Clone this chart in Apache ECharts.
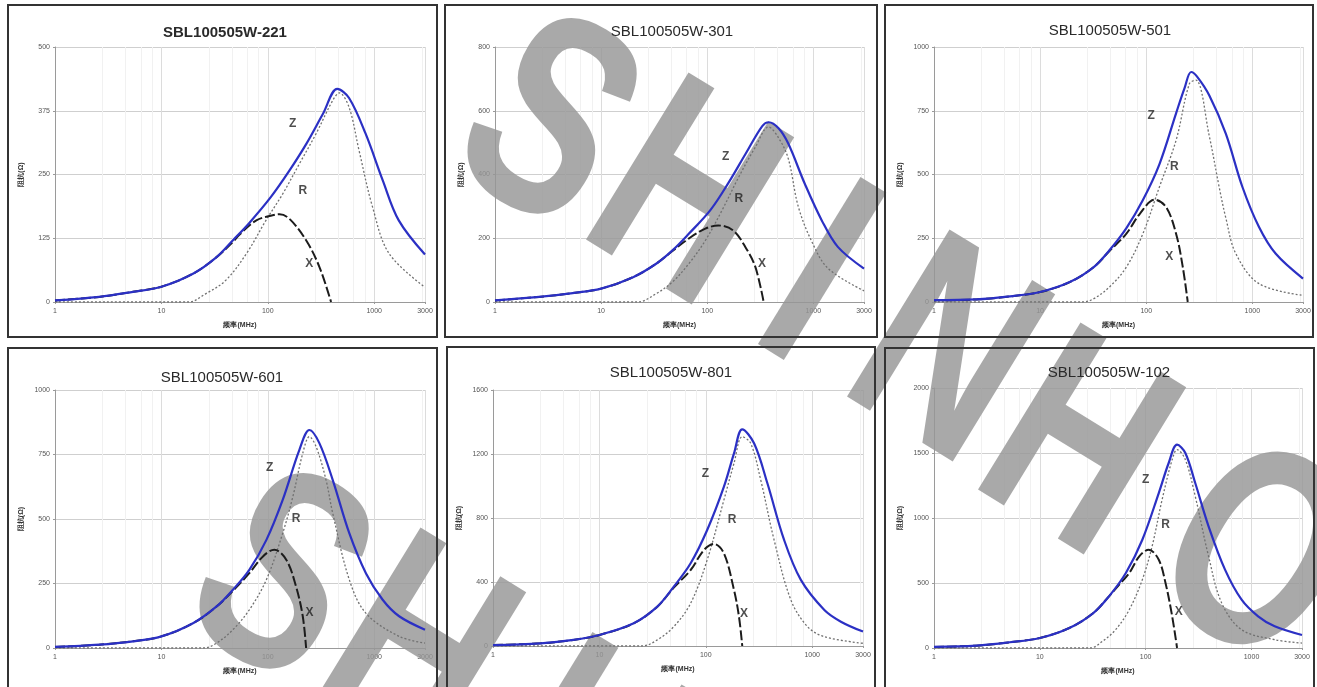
<!DOCTYPE html>
<html><head><meta charset="utf-8">
<script src="https://cdn.jsdelivr.net/npm/echarts@6/dist/echarts.min.js"></script>
<style>html,body{margin:0;padding:0;background:#fff}#c{width:1317px;height:687px}</style>
</head><body><div id="c"></div>
<script>
// ---------- DATA (frequency in MHz, impedance in ohm) ----------
const titles = ['SBL100505W-221','SBL100505W-301','SBL100505W-501','SBL100505W-601','SBL100505W-801','SBL100505W-102'];
const yMaxes = [500, 800, 1000, 1000, 1600, 2000];
const ySteps = [125, 200, 250, 250, 400, 500];
const xMin = 1, xMax = 3000;
const xName = '频率(MHz)', yName = '阻抗(Ω)';
const curveNames = ['Z', 'R', 'X'];

// 221
const fZ221 = [1, 2.6, 5.4, 10, 20, 33, 47, 67, 107, 160, 230, 330, 450, 580, 830, 1200, 1700, 3000];
const z221  = [3, 10, 20, 30, 56, 88, 121, 155, 206, 258, 310, 369, 418, 400, 330, 239, 160, 93];
const fR221 = [1, 18, 26, 40, 63, 96, 138, 198, 284, 407, 470, 580, 720, 965, 1380, 3000];
const r221  = [0, 0, 16, 42, 95, 160, 212, 271, 330, 395, 410, 382, 297, 186, 95, 29];
const fX221 = [1, 2.6, 5.4, 10, 20, 33, 47, 54, 78, 111, 129, 160, 229, 305, 393];
const x221  = [3, 10, 20, 30, 56, 88, 118, 132, 160, 170, 172, 163, 121, 69, 0];
// 301
const fZ301 = [1, 2.6, 5.4, 10, 20, 33, 47, 67, 107, 160, 230, 330, 380, 470, 580, 830, 1200, 1700, 3000];
const z301  = [5, 16, 28, 42, 78, 120, 162, 214, 288, 376, 465, 552, 564, 545, 497, 371, 256, 173, 105];
const fR301 = [1, 22, 33, 47, 67, 96, 138, 198, 284, 378, 470, 580, 720, 965, 1380, 3000];
const r301  = [0, 0, 26, 63, 120, 193, 288, 392, 486, 549, 515, 450, 300, 190, 105, 35];
const fX301 = [1, 2.6, 5.4, 10, 20, 33, 47, 67, 96, 127, 175, 229, 284, 340];
const x301  = [5, 16, 28, 42, 78, 120, 160, 199, 230, 240, 225, 172, 110, 0];
// 501
const fZ501 = [1, 2.5, 5.2, 10, 19, 32, 45, 65, 93, 133, 191, 230, 265, 300, 393, 562, 806, 1155, 1655, 3000];
const z501  = [7, 10, 22, 39, 78, 137, 203, 290, 400, 540, 740, 840, 902, 885, 810, 660, 451, 294, 190, 92];
const fR501 = [1, 25, 32, 45, 65, 93, 133, 191, 255, 294, 393, 487, 562, 698, 1155, 3000];
const r501  = [0, 0, 13, 59, 137, 268, 451, 634, 856, 870, 650, 450, 330, 190, 72, 26];
const fX501 = [1, 2.5, 5.2, 10, 19, 32, 45, 65, 87, 120, 154, 191, 221, 246];
const x501  = [7, 10, 22, 39, 78, 137, 200, 268, 346, 401, 372, 268, 137, 0];
// 601
const fZ601 = [1, 2.6, 5.4, 10, 20, 33, 47, 67, 97, 138, 198, 246, 305, 407, 583, 835, 1200, 1715, 3000];
const z601  = [4, 13, 26, 45, 97, 161, 226, 303, 419, 574, 768, 845, 794, 652, 445, 290, 187, 123, 71];
const fR601 = [1, 25, 33, 47, 67, 97, 138, 172, 213, 246, 284, 352, 407, 583, 835, 1715, 3000];
const r601  = [0, 0, 19, 71, 148, 265, 445, 587, 755, 819, 781, 652, 523, 265, 135, 45, 19];
const fX601 = [1, 2.6, 5.4, 10, 20, 33, 47, 67, 90, 115, 149, 184, 213, 229];
const x601  = [4, 13, 26, 45, 97, 161, 222, 290, 355, 381, 342, 239, 123, 0];
// 801
const fZ801 = [1, 2.8, 5.7, 10, 21, 35, 50, 72, 103, 148, 184, 220, 284, 379, 544, 782, 1300, 1860, 3000];
const z801  = [6, 17, 38, 69, 142, 246, 371, 517, 725, 996, 1204, 1354, 1267, 1017, 663, 413, 225, 152, 90];
const fR801 = [1, 25, 35, 50, 72, 103, 148, 184, 220, 264, 328, 438, 630, 903, 1300, 3000];
const r801  = [0, 0, 38, 121, 267, 538, 913, 1142, 1308, 1267, 1038, 663, 288, 121, 58, 17];
const fX801 = [1, 2.8, 5.7, 10, 21, 35, 50, 72, 96, 119, 148, 184, 205, 220];
const x801  = [6, 17, 38, 69, 142, 246, 365, 475, 600, 638, 579, 350, 183, 0];
// 102
const fZ102 = [1, 2.5, 5.2, 10, 19, 32, 45, 65, 93, 133, 165, 198, 237, 294, 393, 562, 806, 1155, 1655, 3000];
const z102  = [8, 18, 44, 77, 154, 269, 397, 577, 833, 1192, 1423, 1564, 1500, 1269, 936, 603, 372, 244, 167, 100];
const fR102 = [1, 30, 39, 52, 70, 93, 115, 143, 178, 198, 237, 294, 393, 523, 806, 1655, 3000];
const r102  = [0, 0, 51, 141, 295, 526, 782, 1141, 1449, 1526, 1449, 1167, 705, 346, 141, 64, 38];
const fX102 = [1, 2.5, 5.2, 10, 19, 32, 45, 56, 70, 87, 107, 133, 154, 178, 198];
const x102  = [8, 18, 44, 77, 154, 269, 397, 485, 577, 705, 756, 679, 500, 244, 0];

// curve-name annotation anchors [MHz, ohm] for Z, R, X
const lab221 = [[171, 350], [213, 219], [245, 75]];
const lab301 = [[149, 455], [198, 324], [328, 120]];
const lab501 = [[111, 732], [184, 529], [165, 176]];
const lab601 = [[104, 697], [184, 503], [246, 135]];
const lab801 = [[99, 1079], [177, 787], [228, 204]];
const lab102 = [[100, 1295], [154, 949], [205, 282]];

const watermark = 'SHINHO';

// ---------- build ----------
const panelData = [
  [fZ221, z221, fR221, r221, fX221, x221, lab221],
  [fZ301, z301, fR301, r301, fX301, x301, lab301],
  [fZ501, z501, fR501, r501, fX501, x501, lab501],
  [fZ601, z601, fR601, r601, fX601, x601, lab601],
  [fZ801, z801, fR801, r801, fX801, x801, lab801],
  [fZ102, z102, fR102, r102, fX102, x102, lab102]
];
const gridBoxes = [
  {left: 55, top: 47, width: 370, height: 255},
  {left: 495, top: 47, width: 369, height: 255},
  {left: 934, top: 47, width: 369, height: 255},
  {left: 55, top: 390, width: 370, height: 258},
  {left: 493, top: 390, width: 370, height: 256},
  {left: 934, top: 388, width: 368, height: 260}
];
const borders = [[8,5,429,332],[445,5,432,332],[885,5,428,332],[8,348,429,345],[447,347,428,345],[885,348,429,345]];
const titlePos = [[225,33,'bold'],[672,32,'normal'],[1110,31,'normal'],[222,378,'normal'],[671,373,'normal'],[1109,373,'normal']];

const zip = (f, v) => f.map((x, i) => [x, v[i]]);
const FONT = '"Liberation Sans", Arial, sans-serif';

const grid = [], xAxis = [], yAxis = [], series = [];
panelData.forEach((p, i) => {
  grid.push(Object.assign({containLabel: false}, gridBoxes[i]));
  xAxis.push({
    gridIndex: i, type: 'log', logBase: 10, min: xMin, max: xMax,
    name: xName, nameLocation: 'middle', nameGap: 20,
    nameTextStyle: {fontSize: 7, color: '#333', fontWeight: 'bold', fontFamily: FONT},
    axisLine: {show: true, onZero: false, lineStyle: {color: '#9a9a9a', width: 1}},
    axisTick: {show: true, length: 2, lineStyle: {color: '#9a9a9a'}},
    axisLabel: {fontSize: 7, color: '#555', margin: 6, fontFamily: FONT,
      formatter: v => String(Math.round(v))},
    splitLine: {show: true, lineStyle: {color: '#dcdcdc', width: 1}},
    minorSplitLine: {show: true, lineStyle: {color: '#f1f1f1', width: 1}}
  });
  yAxis.push({
    gridIndex: i, type: 'value', min: 0, max: yMaxes[i], interval: ySteps[i],
    name: yName, nameLocation: 'middle', nameGap: 30, nameRotate: 90,
    nameTextStyle: {fontSize: 7, color: '#333', fontWeight: 'bold', fontFamily: FONT},
    axisLine: {show: true, lineStyle: {color: '#9a9a9a', width: 1}},
    axisTick: {show: true, length: 2, lineStyle: {color: '#9a9a9a'}},
    axisLabel: {fontSize: 7, color: '#555', margin: 5, fontFamily: FONT,
      formatter: v => String(v)},
    splitLine: {show: true, lineStyle: {color: '#cfcfcf', width: 1}}
  });
  series.push({
    name: 'R', type: 'line', xAxisIndex: i, yAxisIndex: i, data: zip(p[2], p[3]),
    smooth: 0.35, symbol: 'none', z: 3,
    lineStyle: {color: '#707070', width: 1.3, type: [2, 2]}
  });
  series.push({
    name: 'X', type: 'line', xAxisIndex: i, yAxisIndex: i, data: zip(p[4], p[5]),
    smooth: 0.35, symbol: 'none', z: 4,
    lineStyle: {color: '#1c1c1c', width: 2, type: [10, 3]}
  });
  series.push({
    name: 'Z', type: 'line', xAxisIndex: i, yAxisIndex: i, data: zip(p[0], p[1]),
    smooth: 0.35, symbol: 'none', z: 5,
    lineStyle: {color: '#2b30c4', width: 2.2}
  });
  series.push({
    type: 'scatter', xAxisIndex: i, yAxisIndex: i, symbolSize: 0, z: 6, silent: true,
    data: p[6].map((c, k) => [c[0], c[1], curveNames[k]]),
    label: {show: true, position: 'inside', formatter: d => d.data[2],
      fontSize: 12, fontWeight: 'bold', color: '#222', fontFamily: FONT}
  });
});

const graphic = [];
borders.forEach(b => graphic.push({
  type: 'rect', z: 20, silent: true,
  shape: {x: b[0], y: b[1], width: b[2], height: b[3]},
  style: {fill: 'none', stroke: '#333', lineWidth: 2}
}));
titles.forEach((t, i) => graphic.push({
  type: 'text', z: 20, x: titlePos[i][0], y: titlePos[i][1],
  style: {text: t, fontSize: 15, fontWeight: titlePos[i][2], fontFamily: FONT, fill: '#2a2a2a',
    textAlign: 'center', textVerticalAlign: 'middle', align: 'center', verticalAlign: 'middle'}
}));
// watermark letters (two slanted lines of the stamp)
const wmCenters1 = [[543,132],[680,205],[812,285],[941,362],[1072,455],[1250,565]];
const wmCenters2 = [[275,587],[412,660],[544,740],[673,817],[804,910],[982,1020]];
[wmCenters1, wmCenters2].forEach(line => line.forEach((c, k) => graphic.push({
  type: 'text', z: 1, silent: true, x: c[0], y: c[1], rotation: -0.55, scaleX: 0.74,
  style: {text: watermark[k], fontSize: 285, fontWeight: 'bold', fontFamily: FONT,
    fill: 'rgba(150,150,150,0.82)',
    textAlign: 'center', textVerticalAlign: 'middle', align: 'center', verticalAlign: 'middle'}
})));

const chart = echarts.init(document.getElementById('c'), null, {renderer: 'canvas'});
chart.setOption({
  animation: false,
  backgroundColor: '#fff',
  textStyle: {fontFamily: FONT},
  grid, xAxis, yAxis, series, graphic
});
</script></body></html>
